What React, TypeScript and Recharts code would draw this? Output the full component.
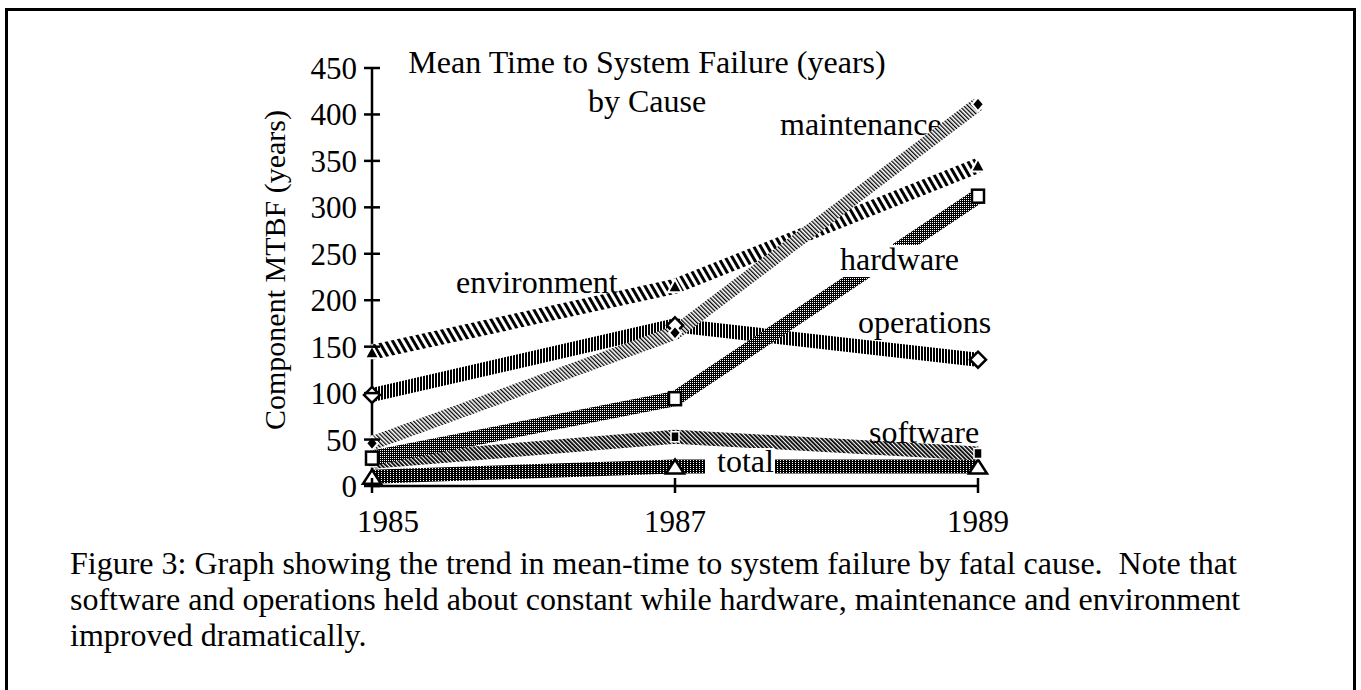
import React from "react";
import { LineChart, Line, XAxis, YAxis } from "recharts";

// values (years of MTBF per cause)
const years = [1985, 1987, 1989];
const maintenance = [46, 165, 411];
const environment = [144, 215, 345];
const operations = [98, 173, 136];
const hardware = [30, 94, 312];
const software = [26, 53, 35];
const total = [10, 21, 21];

const yTicks = [0, 50, 100, 150, 200, 250, 300, 350, 400, 450];

const data = years.map((year, i) => ({
  year,
  maintenance: maintenance[i],
  environment: environment[i],
  operations: operations[i],
  hardware: hardware[i],
  software: software[i],
  total: total[i],
}));

const FONT = '"Liberation Serif", "Times New Roman", serif';

const YTick = (props: any) => {
  const { x, y, payload } = props;
  return (
    <g>
      <line x1={x - 8} x2={x + 8} y1={y} y2={y} stroke="#000" strokeWidth={2.5} />
      <text x={x - 15} y={y + 11} textAnchor="end" fontSize={31} fontFamily={FONT} fill="#000">
        {payload.value}
      </text>
    </g>
  );
};

const XTick = (props: any) => {
  const { x, y, payload, index } = props;
  // first label sits a bit to the right so it clears the "0"
  const shift = index === 0 ? 16 : 0;
  return (
    <g>
      <line x1={x} x2={x} y1={y - 8} y2={y + 7} stroke="#000" strokeWidth={2.5} />
      <text x={x + shift} y={y + 46} textAnchor="middle" fontSize={31} fontFamily={FONT} fill="#000">
        {payload.value}
      </text>
    </g>
  );
};

// markers
const filledDiamond = (p: any) => {
  const { cx, cy, index } = p;
  return (
    <path
      key={`md-${index}`}
      d={`M${cx},${cy - 7} L${cx + 6},${cy} L${cx},${cy + 7} L${cx - 6},${cy} Z`}
      fill="#000"
      stroke="#fff"
      strokeWidth={2}
    />
  );
};

const filledTriangle = (p: any) => {
  const { cx, cy, index } = p;
  return (
    <path
      key={`et-${index}`}
      d={`M${cx},${cy - 7} L${cx + 7},${cy + 6} L${cx - 7},${cy + 6} Z`}
      fill="#000"
      stroke="#fff"
      strokeWidth={2}
    />
  );
};

const openDiamond = (p: any) => {
  const { cx, cy, index } = p;
  return (
    <path
      key={`od-${index}`}
      d={`M${cx},${cy - 8} L${cx + 8},${cy} L${cx},${cy + 8} L${cx - 8},${cy} Z`}
      fill="#fff"
      stroke="#000"
      strokeWidth={2.5}
    />
  );
};

const openSquare = (p: any) => {
  const { cx, cy, index } = p;
  return (
    <rect
      key={`hs-${index}`}
      x={cx - 6}
      y={cy - 6.5}
      width={12}
      height={13}
      fill="#fff"
      stroke="#000"
      strokeWidth={2.5}
    />
  );
};

const filledSquare = (p: any) => {
  const { cx, cy, index } = p;
  return (
    <rect
      key={`ss-${index}`}
      x={cx - 4}
      y={cy - 5}
      width={8}
      height={10}
      fill="#000"
      stroke="#fff"
      strokeWidth={1.5}
    />
  );
};

const openTriangle = (p: any) => {
  const { cx, cy, index } = p;
  return (
    <path
      key={`tt-${index}`}
      d={`M${cx},${cy - 7} L${cx + 9},${cy + 7} L${cx - 9},${cy + 7} Z`}
      fill="#fff"
      stroke="#000"
      strokeWidth={2.5}
    />
  );
};

export default function App() {
  return (
    <div
      style={{
        position: "absolute",
        left: 0,
        top: 0,
        width: 1361,
        height: 690,
        overflow: "hidden",
        background: "#fff",
        fontFamily: FONT,
      }}
    >
      {/* frame around the figure */}
      <div
        style={{
          position: "absolute",
          left: 5,
          top: 8,
          width: 1351,
          height: 720,
          boxSizing: "border-box",
          border: "3px solid #000",
        }}
      />

      {/* label that the maintenance band runs over */}
      <svg
        width={1361}
        height={560}
        style={{ position: "absolute", left: 0, top: 0 }}
        fontFamily={FONT}
      >
        <text x={780} y={135} fontSize={32}>maintenance</text>
      </svg>

      <div style={{ position: "absolute", left: 0, top: 0 }}>
        <LineChart
          width={1361}
          height={560}
          data={data}
          margin={{ top: 68, right: 383, bottom: 14, left: 272 }}
        >
          <defs>
            <pattern id="pEnv" width="6" height="6" patternUnits="userSpaceOnUse" patternTransform="rotate(-30)">
              <rect width="6" height="6" fill="#fff" />
              <rect width="3" height="6" fill="#000" />
            </pattern>
            <pattern id="pMaint" width="3" height="3" patternUnits="userSpaceOnUse" patternTransform="rotate(-45)">
              <rect width="3" height="3" fill="#fff" />
              <rect width="1.3" height="3" fill="#000" />
            </pattern>
            <pattern id="pOps" width="3" height="3" patternUnits="userSpaceOnUse">
              <rect width="3" height="3" fill="#fff" />
              <rect width="2" height="3" fill="#000" />
            </pattern>
            <pattern id="pHw" width="2" height="2" patternUnits="userSpaceOnUse">
              <rect width="2" height="2" fill="#000" />
              <rect width="1" height="1" fill="#fff" />
            </pattern>
            <pattern id="pSw" width="3" height="3" patternUnits="userSpaceOnUse" patternTransform="rotate(-45)">
              <rect width="3" height="3" fill="#fff" />
              <rect width="1.8" height="3" fill="#000" />
            </pattern>
            <pattern id="pTot" width="3" height="2" patternUnits="userSpaceOnUse">
              <rect width="3" height="2" fill="#000" />
              <rect width="1" height="1" fill="#fff" />
            </pattern>
          </defs>
          <XAxis
            dataKey="year"
            type="number"
            domain={[1985, 1989]}
            ticks={years}
            height={60}
            tickLine={false}
            tickSize={0}
            tickMargin={0}
            tick={<XTick />}
            axisLine={{ stroke: "#000", strokeWidth: 2.5 }}
          />
          <YAxis
            type="number"
            domain={[0, 450]}
            ticks={yTicks}
            width={100}
            tickLine={false}
            tickSize={0}
            tickMargin={0}
            tick={<YTick />}
            axisLine={{ stroke: "#000", strokeWidth: 2.5 }}
          />
          <Line dataKey="total" stroke="url(#pTot)" strokeWidth={14} dot={openTriangle} activeDot={false} isAnimationActive={false} strokeLinejoin="miter" />
          <Line dataKey="software" stroke="url(#pSw)" strokeWidth={14} dot={filledSquare} activeDot={false} isAnimationActive={false} strokeLinejoin="miter" />
          <Line dataKey="operations" stroke="url(#pOps)" strokeWidth={14} dot={openDiamond} activeDot={false} isAnimationActive={false} strokeLinejoin="miter" />
          <Line dataKey="environment" stroke="url(#pEnv)" strokeWidth={15} dot={filledTriangle} activeDot={false} isAnimationActive={false} strokeLinejoin="miter" />
          <Line dataKey="maintenance" stroke="url(#pMaint)" strokeWidth={14} dot={filledDiamond} activeDot={false} isAnimationActive={false} strokeLinejoin="miter" />
          <Line dataKey="hardware" stroke="url(#pHw)" strokeWidth={15} dot={openSquare} activeDot={false} isAnimationActive={false} strokeLinejoin="miter" />
        </LineChart>
      </div>

      {/* title, axis title and series labels */}
      <svg
        width={1361}
        height={560}
        style={{ position: "absolute", left: 0, top: 0, pointerEvents: "none" }}
        fontFamily={FONT}
      >
        <text x={647} y={73} textAnchor="middle" fontSize={32}>Mean Time to System Failure (years)</text>
        <text x={647} y={112} textAnchor="middle" fontSize={32}>by Cause</text>
        <text transform="translate(285,270) rotate(-90)" textAnchor="middle" fontSize={30}>
          Component MTBF (years)
        </text>
        <rect x={836} y={245} width={124} height={32} fill="#fff" />
        <rect x={705} y={448} width={70} height={30} fill="#fff" />
        <text x={456} y={293} fontSize={32}>environment</text>
        <text x={840} y={270} fontSize={32}>hardware</text>
        <text x={858} y={333} fontSize={32}>operations</text>
        <text x={869} y={443} fontSize={32}>software</text>
        <text x={717} y={472} fontSize={32}>total</text>
      </svg>

      {/* caption */}
      <div
        style={{
          position: "absolute",
          left: 70,
          top: 545,
          fontSize: 32,
          lineHeight: "36px",
          whiteSpace: "pre",
          color: "#000",
        }}
      >
        <div>Figure 3: Graph showing the trend in mean-time to system failure by fatal cause.  Note that</div>
        <div>software and operations held about constant while hardware, maintenance and environment</div>
        <div>improved dramatically.</div>
      </div>
    </div>
  );
}
